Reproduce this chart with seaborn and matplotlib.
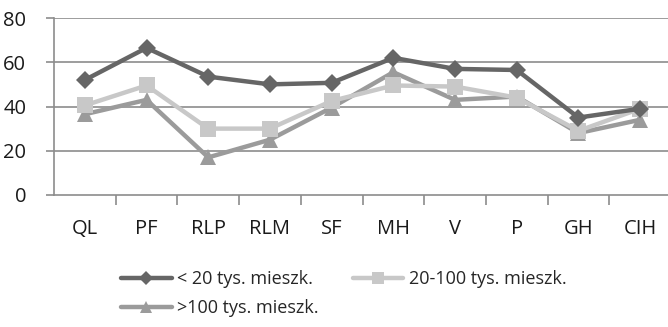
import matplotlib
matplotlib.use("Agg")
import matplotlib.pyplot as plt
import seaborn as sns
import pandas as pd
from matplotlib.lines import Line2D

categories = ["QL", "PF", "RLP", "RLM", "SF", "MH", "V", "P", "GH", "CIH"]
series_names = ["< 20 tys. mieszk.", "20-100 tys. mieszk.", ">100 tys. mieszk."]
small_towns = [52, 66.5, 53.5, 50, 50.7, 62, 57, 56.5, 35, 39]
mid_towns = [40.5, 49.5, 30, 30, 42.5, 49.5, 49, 44, 29, 39]
big_towns = [36.5, 43, 17, 25, 39.5, 55.5, 43, 44.5, 28, 34]
y_ticks = [0, 20, 40, 60, 80]

colors = ["#666666", "#c8c8c8", "#9b9b9b"]
markers = ["D", "s", "^"]
msizes = [9, 12, 12]
grid_col = "#8c8c8c"

sns.set_theme(style="white")
plt.rcParams["font.family"] = ["Open Sans", "DejaVu Sans"]

rows = []
for name, vals in zip(series_names, [small_towns, mid_towns, big_towns]):
    for c, v in zip(categories, vals):
        rows.append({"cat": c, "val": v, "series": name})
df = pd.DataFrame(rows)

fig = plt.figure(figsize=(6.68, 3.27), dpi=100)
ax = fig.add_axes([54 / 668, 132 / 327, 617 / 668, 177 / 327])

# draw in reverse so the darkest line sits on top
for name, col, mk, ms in reversed(list(zip(series_names, colors, markers, msizes))):
    sub = df[df["series"] == name]
    sns.lineplot(data=sub, x="cat", y="val", ax=ax, color=col, marker=mk,
                 markersize=ms, markeredgewidth=0, linewidth=3.2, legend=False,
                 sort=False)

ax.set_xlim(-0.5, len(categories) - 0.5)
ax.set_ylim(0, 80)
ax.set_yticks(y_ticks)
ax.set_xticks(range(len(categories)))
ax.set_xticklabels(categories)
ax.set_xlabel("")
ax.set_ylabel("")

for y in y_ticks[1:]:
    ax.axhline(y, color=grid_col, linewidth=1.2, zorder=0)

for s in ["top", "right"]:
    ax.spines[s].set_visible(False)
for s in ["left", "bottom"]:
    ax.spines[s].set_color(grid_col)
    ax.spines[s].set_linewidth(1.2)

ax.tick_params(axis="x", length=0, pad=17, labelsize=14.5, colors="#1a1a1a")
ax.tick_params(axis="y", left=True, length=6, width=1.2, color=grid_col,
               pad=14, labelsize=14.5, labelcolor="#1a1a1a", direction="out")

# small ticks between categories on the x axis
ax.set_xticks([i + 0.5 for i in range(len(categories) - 1)], minor=True)
ax.tick_params(axis="x", which="minor", bottom=True, length=7, width=1.2,
               color=grid_col, direction="out")

handles = [Line2D([0], [0], color=c, marker=m, markersize=ms * 0.75,
                  markeredgewidth=0, linewidth=3.2)
           for c, m, ms in zip(colors, markers, msizes)]
# legend fills column by column: order entries so rows read small, mid / big
order = [0, 2, 1]
fig.legend([handles[i] for i in order], [series_names[i] for i in order],
           ncol=2, frameon=False, loc="upper left",
           bbox_to_anchor=(121 / 668, 1 - 270 / 327), fontsize=13,
           handlelength=2.8, handletextpad=0.3, columnspacing=1.9,
           labelspacing=0.62, borderaxespad=0, borderpad=0)

fig.savefig("out.png", dpi=100)
